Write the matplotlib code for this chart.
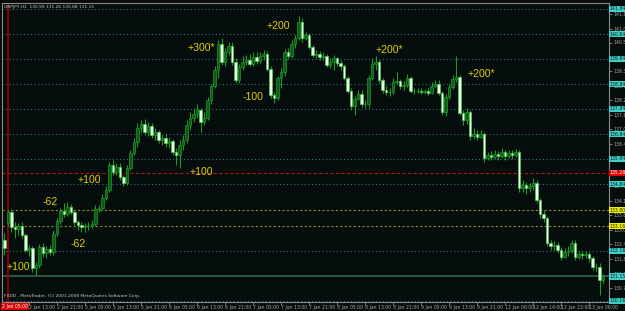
import matplotlib
matplotlib.use("Agg")
import matplotlib.pyplot as plt

# GBPJPY H1, 2 Jan 2009 - 13 Jan 2009 (bar index 0 = 2 Jan 05:00)
opens = [
    132.40, 132.60, 133.28, 133.72, 133.12, 133.04, 133.16, 132.80, 132.20, 132.28,
    131.48, 131.60, 132.32, 132.08, 132.24, 132.12, 132.84, 133.36, 133.76, 133.64,
    133.92, 133.72, 133.32, 133.20, 133.12, 133.16, 133.16, 133.24, 133.84, 133.88,
    134.28, 134.60, 135.60, 135.32, 135.52, 135.12, 134.88, 135.48, 136.08, 136.52,
    137.08, 137.24, 136.92, 137.16, 136.80, 136.92, 136.60, 136.68, 136.48, 136.56,
    136.12, 136.00, 136.40, 136.60, 137.20, 137.48, 137.64, 137.80, 137.32, 137.48,
    138.20, 138.76, 139.40, 140.44, 139.72, 140.12, 140.36, 139.72, 139.00, 139.52,
    139.72, 139.80, 139.64, 139.92, 139.76, 139.96, 140.04, 139.44, 138.40, 138.28,
    139.08, 139.32, 140.12, 139.96, 140.44, 140.68, 141.32, 140.68, 140.80, 140.32,
    140.00, 140.04, 139.92, 139.96, 139.60, 139.72, 139.88, 139.68, 139.56, 139.08,
    138.56, 137.96, 138.24, 138.44, 138.04, 138.04, 139.08, 139.64, 139.72, 139.00,
    138.60, 138.52, 138.52, 138.92, 138.96, 138.76, 138.80, 139.08, 138.56, 138.56,
    138.56, 138.52, 138.56, 138.48, 138.76, 138.84, 138.48, 137.72, 138.32, 138.72,
    139.04, 139.12, 137.68, 137.40, 137.72, 136.76, 136.84, 136.72, 136.84, 135.88,
    136.00, 135.92, 136.04, 135.96, 136.12, 135.96, 136.08, 136.00, 136.12, 134.68,
    134.80, 134.68, 134.76, 134.88, 134.20, 133.64, 133.48, 132.48, 132.36, 132.40,
    132.20, 131.92, 132.12, 132.16, 132.48, 131.92, 132.04, 132.00, 132.04, 131.88,
    131.52, 131.52, 130.99,
]
highs = [
    132.80, 132.88, 133.80, 133.80, 133.32, 133.28, 133.32, 132.88, 132.40, 132.36,
    131.72, 132.44, 132.48, 132.36, 132.40, 133.00, 133.48, 133.88, 134.08, 134.12,
    134.04, 133.80, 133.40, 133.32, 133.28, 133.32, 133.40, 134.00, 134.00, 134.44,
    134.76, 135.72, 135.80, 135.68, 135.68, 135.20, 135.60, 136.20, 136.68, 137.28,
    137.40, 137.44, 137.32, 137.28, 137.08, 137.00, 136.80, 136.84, 136.72, 136.64,
    136.28, 136.60, 136.80, 137.40, 137.72, 137.88, 138.04, 137.88, 137.72, 138.32,
    138.84, 139.56, 140.60, 140.68, 140.28, 140.52, 140.52, 139.88, 139.64, 139.96,
    140.00, 140.04, 140.12, 140.12, 140.12, 140.20, 140.16, 139.56, 138.52, 139.16,
    139.48, 140.24, 140.28, 140.60, 140.80, 141.56, 141.48, 140.92, 140.88, 140.40,
    140.20, 140.16, 140.12, 140.04, 139.88, 140.00, 139.92, 139.80, 139.64, 139.16,
    138.68, 138.36, 138.60, 138.60, 138.20, 139.20, 139.88, 139.96, 139.80, 139.08,
    138.76, 138.68, 139.08, 139.32, 139.04, 138.96, 139.24, 139.16, 138.68, 138.68,
    138.68, 138.64, 138.68, 138.92, 139.00, 139.00, 138.56, 138.44, 138.84, 139.20,
    139.96, 139.20, 137.80, 137.88, 137.80, 137.08, 137.00, 137.00, 136.92, 136.12,
    136.16, 136.20, 136.16, 136.28, 136.20, 136.20, 136.20, 136.24, 136.20, 135.00,
    134.92, 134.88, 135.08, 135.00, 134.28, 133.80, 133.56, 132.60, 132.56, 132.52,
    132.32, 132.28, 132.36, 132.60, 132.60, 132.16, 132.16, 132.16, 132.12, 131.96,
    131.68, 131.68, 131.26,
]
lows = [
    132.20, 132.00, 133.16, 132.92, 132.68, 132.80, 132.68, 132.12, 131.96, 131.32,
    131.20, 131.48, 131.92, 131.88, 132.00, 132.00, 132.76, 133.24, 133.52, 133.56,
    133.64, 133.20, 133.00, 132.92, 132.92, 133.00, 133.08, 133.16, 133.72, 133.80,
    134.20, 134.52, 135.20, 135.20, 135.00, 134.76, 134.80, 135.40, 136.00, 136.32,
    136.92, 136.80, 136.76, 136.68, 136.60, 136.48, 136.40, 136.32, 136.28, 136.00,
    135.60, 135.48, 136.20, 136.48, 137.00, 137.32, 137.48, 136.92, 137.20, 137.40,
    138.04, 138.68, 139.08, 139.60, 139.56, 140.00, 139.60, 138.88, 138.88, 139.40,
    139.60, 139.56, 139.56, 139.64, 139.68, 139.80, 139.36, 138.28, 138.08, 138.20,
    138.68, 139.16, 139.84, 139.88, 140.28, 140.60, 140.52, 140.60, 140.24, 139.92,
    139.88, 139.80, 139.80, 139.52, 139.48, 139.40, 139.56, 139.40, 139.00, 138.48,
    137.80, 137.60, 138.20, 137.92, 137.88, 137.88, 139.00, 139.40, 138.88, 138.48,
    138.40, 138.36, 138.44, 138.84, 138.64, 138.60, 138.72, 138.48, 138.44, 138.48,
    138.44, 138.44, 138.40, 138.44, 138.72, 138.40, 137.60, 137.56, 138.24, 138.64,
    138.92, 137.60, 137.20, 137.24, 136.60, 136.64, 136.60, 136.68, 135.72, 135.80,
    135.80, 135.84, 135.80, 135.88, 135.80, 135.88, 135.84, 135.92, 134.52, 134.52,
    134.44, 134.52, 134.60, 134.08, 133.48, 133.32, 132.36, 132.20, 132.20, 132.08,
    131.80, 131.88, 131.96, 132.08, 131.80, 131.84, 131.84, 131.88, 131.72, 131.40,
    131.36, 130.40, 130.88,
]
closes = [
    132.60, 132.28, 133.72, 133.12, 133.04, 133.16, 132.80, 132.20, 132.28, 131.48,
    131.60, 132.32, 132.08, 132.24, 132.12, 132.84, 133.36, 133.76, 133.64, 133.92,
    133.72, 133.32, 133.20, 133.12, 133.16, 133.16, 133.24, 133.84, 133.88, 134.28,
    134.60, 135.60, 135.32, 135.52, 135.12, 134.88, 135.48, 136.08, 136.52, 137.08,
    137.24, 136.92, 137.16, 136.80, 136.92, 136.60, 136.68, 136.48, 136.56, 136.12,
    136.00, 136.40, 136.60, 137.20, 137.48, 137.64, 137.80, 137.32, 137.48, 138.20,
    138.76, 139.40, 140.44, 139.72, 140.12, 140.36, 139.72, 139.00, 139.52, 139.72,
    139.80, 139.64, 139.92, 139.76, 139.96, 140.04, 139.44, 138.40, 138.28, 139.08,
    139.32, 140.12, 139.96, 140.44, 140.68, 141.32, 140.68, 140.80, 140.32, 140.00,
    140.04, 139.92, 139.96, 139.60, 139.72, 139.88, 139.68, 139.56, 139.08, 138.56,
    137.96, 138.24, 138.44, 138.04, 138.04, 139.08, 139.64, 139.72, 139.00, 138.60,
    138.52, 138.52, 138.92, 138.96, 138.76, 138.80, 139.08, 138.56, 138.56, 138.56,
    138.52, 138.56, 138.48, 138.76, 138.84, 138.48, 137.72, 138.32, 138.72, 139.04,
    139.12, 137.68, 137.40, 137.72, 136.76, 136.84, 136.72, 136.84, 135.88, 136.00,
    135.92, 136.04, 135.96, 136.12, 135.96, 136.08, 136.00, 136.12, 134.68, 134.80,
    134.68, 134.76, 134.88, 134.20, 133.64, 133.48, 132.48, 132.36, 132.40, 132.20,
    131.92, 132.12, 132.16, 132.48, 131.92, 132.04, 132.00, 132.04, 131.88, 131.52,
    131.52, 130.99, 131.15,
]

# time axis labels (bar index, text)
date_ticks = [8, 16, 24, 32, 40, 48, 56, 64, 72, 80, 88, 96, 104, 112, 120, 128,
              136, 144, 152, 160, 168]
date_labels = ["2 Jan 13:00", "2 Jan 21:00", "5 Jan 05:00", "5 Jan 13:00", "5 Jan 21:00",
               "6 Jan 05:00", "6 Jan 13:00", "6 Jan 21:00", "7 Jan 05:00", "7 Jan 13:00",
               "7 Jan 21:00", "8 Jan 05:00", "8 Jan 13:00", "8 Jan 21:00", "9 Jan 05:00",
               "9 Jan 13:00", "9 Jan 21:00", "12 Jan 06:00", "12 Jan 14:00", "12 Jan 22:00",
               "13 Jan 06:00"]

price_ticks = [130.70, 131.25, 131.85, 132.45, 133.00, 133.60, 134.15, 134.75, 135.30,
               135.90, 136.45, 137.05, 137.60, 138.20, 138.75, 139.35, 139.90, 140.50,
               141.05, 141.65]

cyan_levels = [141.84, 140.84, 139.84, 138.84, 137.84, 136.84, 135.84, 134.84, 132.16, 130.16]
yellow_levels = [133.80, 133.16]
red_level = 135.28
bid = 131.15
separator_bar = 2

# trade notes written on the chart: (text, bar index, price)
notes = [("+100", 1.7, 131.52), ("-62", 12.0, 134.12), ("-62", 20.0, 132.44),
         ("+100", 22.0, 135.00), ("+100", 54.0, 135.32), ("+300*", 53.4, 140.28),
         ("-100", 69.1, 138.32), ("+200", 76.0, 141.16), ("+200*", 106.9, 140.20),
         ("+200*", 133.4, 139.24)]

BG = "#060d0d"
GRAY = "#a8a8a8"
CYAN = "#3fcfc8"
SMALL = 3.3

fig = plt.figure(figsize=(6.25, 3.11), dpi=100, facecolor=BG)
ax = fig.add_axes([2 / 625, 9 / 311, 607 / 625, 299 / 311], facecolor=BG)
ax.set_xlim(0.29, 173.7)
ax.set_ylim(130.12, 142.08)

# horizontal levels
for lv in cyan_levels:
    ax.axhline(lv, color="#2a7480", lw=0.8, ls=(0, (1, 2.2)), zorder=1)
for lv in yellow_levels:
    ax.axhline(lv, color="#8f8f10", lw=0.8, ls=(0, (2, 2)), zorder=1)
ax.axhline(red_level, color="#b01818", lw=0.8, ls=(0, (3, 2)), zorder=1)
ax.axhline(bid, color="#2b5a3c", lw=1.4, zorder=1)
ax.axvline(separator_bar, color="#a00000", lw=1.2, zorder=1)

# candles
xs = list(range(len(closes)))
for i in xs:
    o, h, l, c = opens[i], highs[i], lows[i], closes[i]
    ax.vlines(i, l, h, color="#1e9a26", lw=0.8, zorder=2)
    if c >= o:
        face, edge = "#0c5c16", "#1f9a28"
    else:
        face, edge = "#e4ffe4", "#58c458"
    ax.bar(i, max(abs(c - o), 0.015), bottom=min(o, c), width=0.72,
           color=face, edgecolor=edge, linewidth=0.5, zorder=3)

for txt, bx, py in notes:
    ax.text(bx, py, txt, color="#e2cf00", fontsize=7.6, family="Liberation Sans",
            ha="left", va="center", zorder=5)

# frame
for side in ["top", "left", "right", "bottom"]:
    ax.spines[side].set_color("#8a8a8a")
    ax.spines[side].set_linewidth(0.8)

# right price scale
ax.yaxis.tick_right()
ax.set_yticks(price_ticks)
ax.set_yticklabels([f"{p:.2f}" for p in price_ticks])
ax.tick_params(axis="y", colors=GRAY, labelsize=SMALL, length=2, width=0.5, pad=1)
box_labels = [(lv, CYAN, "#062020") for lv in cyan_levels + [bid]]
box_labels += [(lv, "#f0f000", "#202000") for lv in yellow_levels]
box_labels += [(red_level, "#e00000", "white")]
for lv, fc, tc in box_labels:
    ax.text(1.0015, lv, f"{lv:.2f}", transform=ax.get_yaxis_transform(), fontsize=SMALL,
            color=tc, va="center", ha="left", zorder=6, clip_on=False,
            bbox=dict(boxstyle="square,pad=0.2", fc=fc, ec="none"))

# time scale
ax.set_xticks(date_ticks)
ax.set_xticklabels(date_labels, ha="left")
ax.tick_params(axis="x", colors=GRAY, labelsize=SMALL, length=2, width=0.5, pad=0.5)
ax.text(separator_bar - 1.7, -0.008, "2 Jan 05:00", transform=ax.get_xaxis_transform(),
        fontsize=SMALL, color="white", va="top", ha="left", clip_on=False,
        bbox=dict(boxstyle="square,pad=0.2", fc="#e00000", ec="none"))

ax.text(0.004, 0.992, "GBPJPY,H1  130.99 131.26 130.88 131.15", transform=ax.transAxes,
        fontsize=3.2, color="#c8c8c8", va="top", ha="left")
ax.text(0.004, 0.012, "FXDD - MetaTrader, (C) 2001-2008 MetaQuotes Software Corp.",
        transform=ax.transAxes, fontsize=3.2, color="#c8c8c8", va="bottom", ha="left")

fig.savefig("out.png", dpi=100, facecolor=BG)
